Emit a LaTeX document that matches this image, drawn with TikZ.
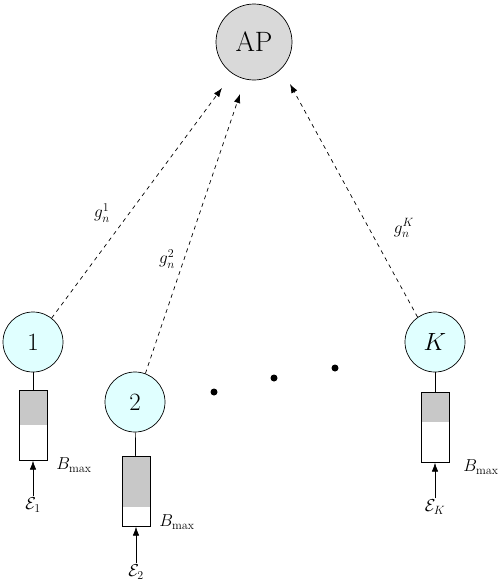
\documentclass[tikz,border=0pt]{standalone}
\usetikzlibrary{arrows.meta}
\definecolor{apgray}{RGB}{217,217,217}
\definecolor{ucyan}{RGB}{224,255,255}
\definecolor{batgray}{RGB}{200,200,200}
\begin{document}
\begin{tikzpicture}[x=1pt,y=-1pt,line width=0.7pt,
  apnode/.style={circle,draw,fill=apgray,minimum size=76pt,inner sep=0pt,font=\fontsize{28}{30}\selectfont},
  usernode/.style={circle,draw,fill=ucyan,minimum size=60pt,inner sep=0pt,font=\fontsize{25}{27}\selectfont},
  link/.style={dash pattern=on 4pt off 4pt,-{Latex[length=9pt,width=6.5pt]}},
  charge/.style={-{Latex[length=9pt,width=6.5pt]}},
  lbl/.style={font=\fontsize{17}{19}\selectfont,inner sep=1pt},
  glbl/.style={font=\fontsize{18}{20}\selectfont,inner sep=1pt},
  dotn/.style={circle,fill=black,minimum size=7pt,inner sep=0pt}]
\useasboundingbox (0,0) rectangle (500,582);
\node[apnode] (ap) at (254,42) {AP};
\node[usernode] (u1) at (33,342) {$1$};
\node[usernode] (u2) at (135,402) {$2$};
\node[usernode] (uk) at (435,342) {$K$};
% links
\coordinate (t1) at (222,88);
\coordinate (t2) at (240,94);
\coordinate (tk) at (290,84);
\draw[link] (u1.52) -- (t1);
\draw[link] (u2.70) -- (t2);
\draw[link] (uk.125) -- (tk);
\node[glbl] (g1) at (102,213) {$g_n^1$};
\node[glbl] (g2) at (167,259) {$g_n^2$};
\node[glbl] (gk) at (404,228) {$g_n^K$};
% batteries
\foreach \n/\x/\y/\h in {1/33/390/35, 2/136/456/51, k/435/392/30}{
  \fill[batgray] (\x-14,\y) rectangle (\x+14,\y+\h);
  \node[draw,minimum width=28pt,minimum height=70pt,inner sep=0pt,anchor=north] (b\n) at (\x,\y) {};
}
\draw (u1) -- (b1);
\draw (u2) -- (b2);
\draw (uk) -- (bk);
\node[lbl] (e1) at (33,505) {$\mathcal{E}_1$};
\node[lbl] (e2) at (136,572) {$\mathcal{E}_2$};
\node[lbl] (ek) at (435,507) {$\mathcal{E}_K$};
\draw[charge] (e1) -- (b1);
\draw[charge] (e2) -- (b2);
\draw[charge] (ek) -- (bk);
\node[lbl,anchor=west] (m1) at (55,465) {$B_{\max}$};
\node[lbl,anchor=west] (m2) at (158,522) {$B_{\max}$};
\node[lbl,anchor=west] (mk) at (462,467) {$B_{\max}$};
% dots
\node[dotn] (d1) at (214,392) {};
\node[dotn] (d2) at (274,378) {};
\node[dotn] (d3) at (335,368) {};
\end{tikzpicture}
\end{document}
